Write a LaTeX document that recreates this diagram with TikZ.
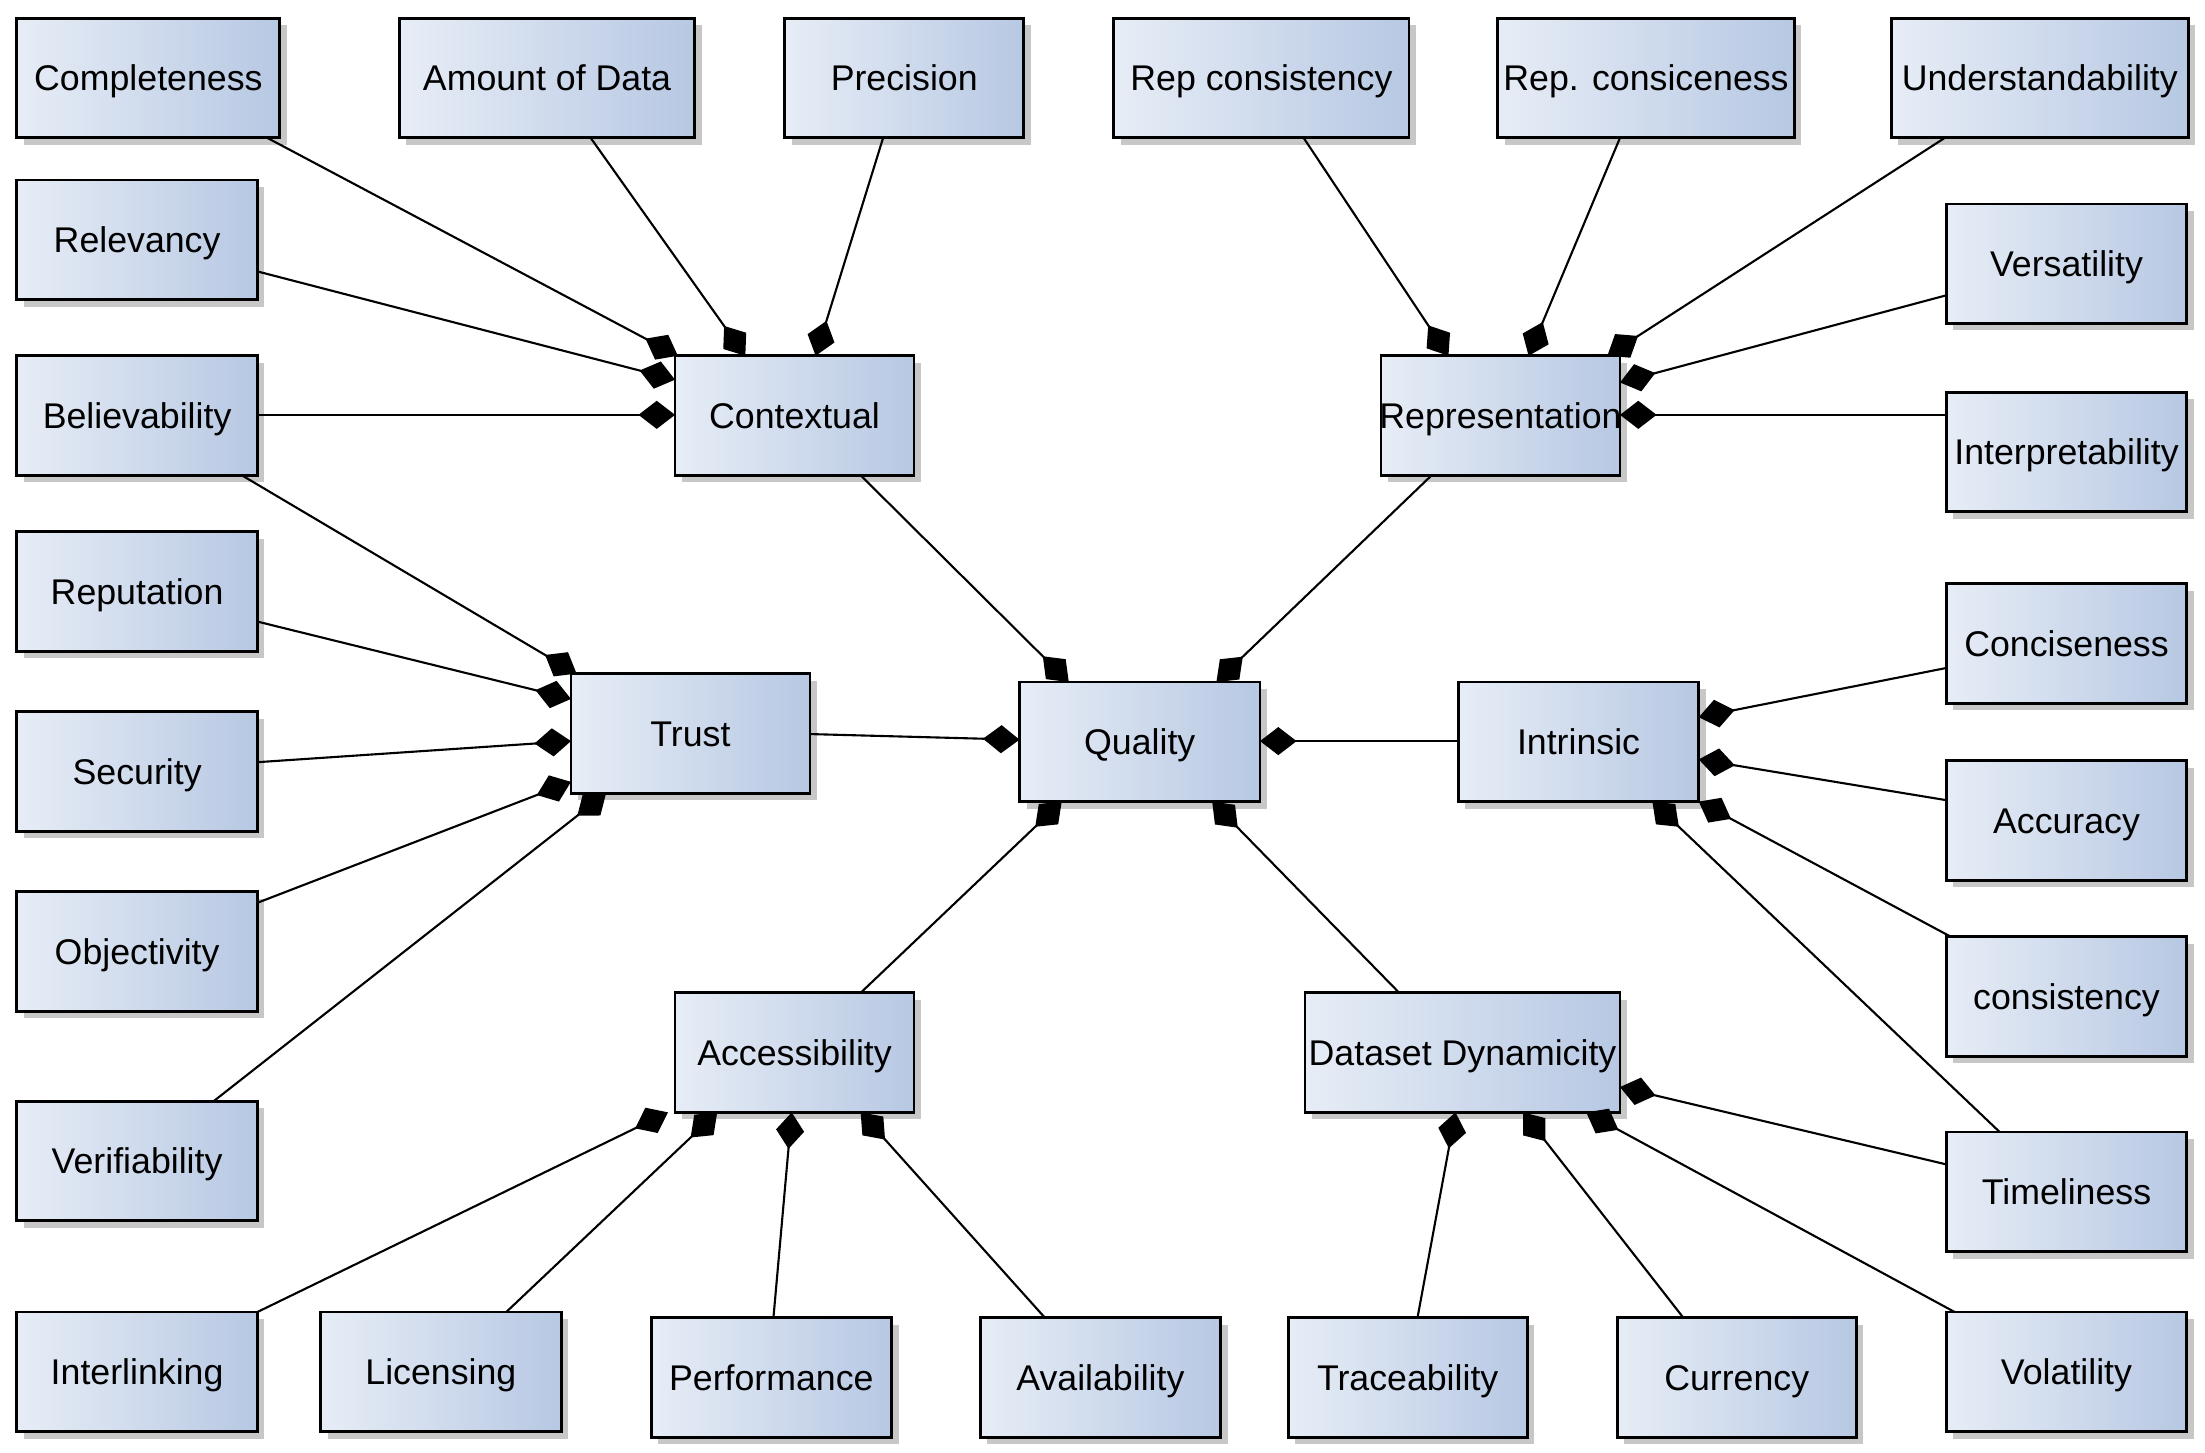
\documentclass[tikz,border=0pt]{standalone}
\usepackage{fontspec}
\setmainfont{Liberation Sans}
\usetikzlibrary{arrows.meta,calc,shadows}
\definecolor{bxA}{RGB}{231,237,246}
\definecolor{bxB}{RGB}{183,200,227}
\newcommand\bx[6]{%
  \expandafter\xdef\csname bxL#1\endcsname{#2}%
  \expandafter\xdef\csname bxT#1\endcsname{#3}%
  \node[box, minimum width={(#4-#2)*0.5pt}, minimum height={(#5-#3)*0.5pt}] (#1) at ({(#2+#4)/2},{(#3+#5)/2}) {\makebox[0pt]{#6}};}
\newcommand\bp[3]{($(#1.north west)+({#2-\csname bxL#1\endcsname},{#3-\csname bxT#1\endcsname})$)}
\begin{document}
\begin{tikzpicture}[x=0.5pt,y=-0.5pt,
  box/.style={draw=black, line width=1pt, left color=bxA, right color=bxB,
    inner sep=0pt, outer sep=0pt, font=\fontsize{12.7}{15}\selectfont,
    text height=9.1pt, text depth=0pt,
    drop shadow={shadow xshift=2.5pt, shadow yshift=-2.5pt, fill=black, opacity=0.22}},
  con/.style={draw=black, line width=0.75pt, -{Diamond[length=13pt,width=10pt]}}]
\useasboundingbox (0,0) rectangle (1568,1033);
% boxes
\bx{comp}{12}{13}{199}{98}{Completeness}
\bx{amt}{284}{13}{494}{98}{Amount of Data}
\bx{prec}{558}{13}{728}{98}{Precision}
\bx{repc}{792}{13}{1002}{98}{Rep consistency}
\bx{repcs}{1065}{13}{1276}{98}{Rep. consiceness}
\bx{und}{1345}{13}{1556}{98}{Understandability}
\bx{rel}{12}{128}{183}{213}{Relevancy}
\bx{bel}{12}{253}{183}{338}{Believability}
\bx{ctx}{480}{253}{650}{338}{Contextual}
\bx{rep}{982}{253}{1152}{338}{Representation}
\bx{vers}{1384}{145}{1555}{230}{Versatility}
\bx{interp}{1384}{279}{1555}{364}{Interpretability}
\bx{reput}{12}{378}{183}{463}{Reputation}
\bx{sec}{12}{506}{183}{591}{Security}
\bx{trust}{406}{479}{576}{564}{Trust}
\bx{qual}{725}{485}{896}{570}{Quality}
\bx{intr}{1037}{485}{1208}{570}{Intrinsic}
\bx{conc}{1384}{415}{1555}{500}{Conciseness}
\bx{acc}{1384}{541}{1555}{626}{Accuracy}
\bx{obj}{12}{634}{183}{719}{Objectivity}
\bx{cons}{1384}{666}{1555}{751}{consistency}
\bx{ver}{12}{783}{183}{868}{Verifiability}
\bx{access}{480}{706}{650}{791}{Accessibility}
\bx{dyn}{928}{706}{1152}{791}{Dataset Dynamicity}
\bx{time}{1384}{805}{1555}{890}{Timeliness}
\bx{inter}{12}{933}{183}{1018}{Interlinking}
\bx{lic}{228}{933}{399}{1018}{Licensing}
\bx{perf}{463}{937}{634}{1022}{Performance}
\bx{avail}{697}{937}{868}{1022}{Availability}
\bx{trace}{916}{937}{1086}{1022}{Traceability}
\bx{curr}{1150}{937}{1320}{1022}{Currency}
\bx{vol}{1384}{933}{1555}{1018}{Volatility}
% contextual
\draw[con] \bp{comp}{190}{98} -- \bp{ctx}{482}{253};
\draw[con] \bp{amt}{420}{98} -- \bp{ctx}{530}{253};
\draw[con] \bp{prec}{628}{98} -- \bp{ctx}{580}{253};
\draw[con] \bp{rel}{183}{193} -- \bp{ctx}{480}{270};
\draw[con] \bp{bel}{183}{295} -- \bp{ctx}{480}{295};
\draw[con] \bp{ctx}{612}{338} -- \bp{qual}{760}{485};
% representation
\draw[con] \bp{repc}{927}{98} -- \bp{rep}{1030}{253};
\draw[con] \bp{repcs}{1152}{98} -- \bp{rep}{1087}{253};
\draw[con] \bp{und}{1383}{98} -- \bp{rep}{1143}{253};
\draw[con] \bp{vers}{1384}{210} -- \bp{rep}{1152}{272};
\draw[con] \bp{interp}{1384}{295} -- \bp{rep}{1152}{295};
\draw[con] \bp{rep}{1018}{338} -- \bp{qual}{865}{485};
% trust
\draw[con] \bp{bel}{172}{338} -- \bp{trust}{410}{479};
\draw[con] \bp{reput}{183}{442} -- \bp{trust}{406}{497};
\draw[con] \bp{sec}{183}{542} -- \bp{trust}{406}{527};
\draw[con] \bp{obj}{183}{642} -- \bp{trust}{406}{556};
\draw[con] \bp{ver}{152}{783} -- \bp{trust}{431}{564};
\draw[con] \bp{trust}{576}{522} -- \bp{qual}{725}{526};
% intrinsic
\draw[con] \bp{intr}{1037}{527} -- \bp{qual}{896}{527};
\draw[con] \bp{conc}{1384}{475} -- \bp{intr}{1208}{510};
\draw[con] \bp{acc}{1384}{569} -- \bp{intr}{1208}{540};
\draw[con] \bp{cons}{1387}{666} -- \bp{intr}{1208}{570};
\draw[con] \bp{time}{1422}{805} -- \bp{intr}{1175}{570};
% accessibility
\draw[con] \bp{access}{612}{706} -- \bp{qual}{755}{570};
\draw[con] \bp{inter}{183}{933} -- \bp{access}{475}{791};
\draw[con] \bp{lic}{360}{933} -- \bp{access}{510}{791};
\draw[con] \bp{perf}{550}{937} -- \bp{access}{563}{791};
\draw[con] \bp{avail}{743}{937} -- \bp{access}{612}{791};
% dynamicity
\draw[con] \bp{dyn}{995}{706} -- \bp{qual}{862}{570};
\draw[con] \bp{trace}{1008}{937} -- \bp{dyn}{1035}{791};
\draw[con] \bp{curr}{1197}{937} -- \bp{dyn}{1083}{791};
\draw[con] \bp{vol}{1390}{933} -- \bp{dyn}{1128}{791};
\draw[con] \bp{time}{1384}{828} -- \bp{dyn}{1152}{773};
\end{tikzpicture}
\end{document}
